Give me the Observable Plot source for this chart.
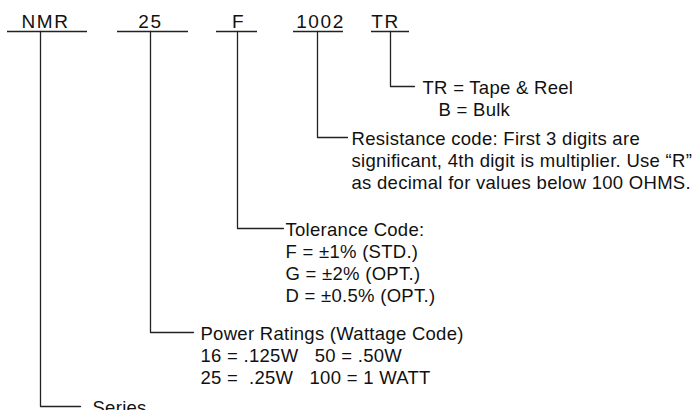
<!DOCTYPE html>
<html><head><meta charset="utf-8">
<script src="https://cdn.jsdelivr.net/npm/d3@7"></script>
<script src="https://cdn.jsdelivr.net/npm/@observablehq/plot@0.6"></script>
<style>
html,body{margin:0;padding:0;background:#fff;}
svg text{white-space:pre;}
</style>
</head><body><div id="chart"></div>
<script>
// Data: part-number code segments and their explanations
const codes = ["NMR", "25", "F", "1002", "TR"];
const seriesLines = ["Series"];
const powerLines = ["Power Ratings (Wattage Code)", "16 = .125W   50 = .50W", "25 =  .25W   100 = 1 WATT"];
const toleranceLines = ["Tolerance Code:", "F = \u00B11% (STD.)", "G = \u00B12% (OPT.)", "D = \u00B10.5% (OPT.)"];
const resistanceLines = ["Resistance code: First 3 digits are", "significant, 4th digit is multiplier. Use \u201CR\u201D", "as decimal for values below 100 OHMS."];
const packagingLines = ["TR = Tape & Reel", "B = Bulk"];
const descriptions = [seriesLines, powerLines, toleranceLines, resistanceLines, packagingLines];

// Layout (pixel geometry, separate from data)
const W = 697, H = 410;
const underline = [[7, 87], [117, 188], [216, 257], [293, 343], [371, 409]];
const labelX = [45, 150, 238, 320, 385];
const underlineY = 31;
const leaderX = [40, 150, 237, 317, 390];
const leaderBottom = [406, 332, 228, 137, 86];
const leaderEnd = [80, 193, 283, 347, 414];
const textX = [92, 200, 285, 351, 422];
const indents = [[0], [0, 0, 0], [0, 0, 0, 0], [0, 0, 0], [0, 16]];
const lineStep = 21.7;

const codeRows = codes.map((c, i) => ({code: c, x1: underline[i][0], x2: underline[i][1], lx: labelX[i]}));
const leaderPts = codes.flatMap((c, i) => [
  {code: c, x: leaderX[i], y: underlineY},
  {code: c, x: leaderX[i], y: leaderBottom[i]},
  {code: c, x: leaderEnd[i], y: leaderBottom[i]}
]);
const descRows = descriptions.flatMap((lines, i) => lines.map((t, j) => ({
  text: t, x: textX[i] + indents[i][j], y: leaderBottom[i] + 2 + j * lineStep
})));

const font = "'Liberation Sans', Arial, Helvetica, sans-serif";
const chart = Plot.plot({
  width: W, height: H, margin: 0,
  style: {fontFamily: font, background: "#fff", color: "#111"},
  x: {domain: [0, W], range: [0, W], axis: null},
  y: {domain: [0, H], range: [0, H], axis: null},
  marks: [
    Plot.ruleY(codeRows, {y: () => underlineY, x1: "x1", x2: "x2", stroke: "#222", strokeWidth: 1.3}),
    Plot.line(leaderPts, {x: "x", y: "y", z: "code", stroke: "#222", strokeWidth: 1.3, curve: "linear"}),
    Plot.text(codeRows, {x: "lx", y: () => 21.5, text: "code", fontSize: 19, fill: "#111", textAnchor: "middle"}),
    Plot.text(descRows, {x: "x", y: "y", text: "text", fontSize: 18.5, fill: "#111", textAnchor: "start"})
  ]
});
const textGroups = chart.querySelectorAll('g[aria-label="text"]');
if (textGroups[0]) textGroups[0].style.letterSpacing = "1.6px";
if (textGroups[1]) textGroups[1].style.letterSpacing = "0.28px";
document.getElementById("chart").appendChild(chart);
</script>
</body></html>
